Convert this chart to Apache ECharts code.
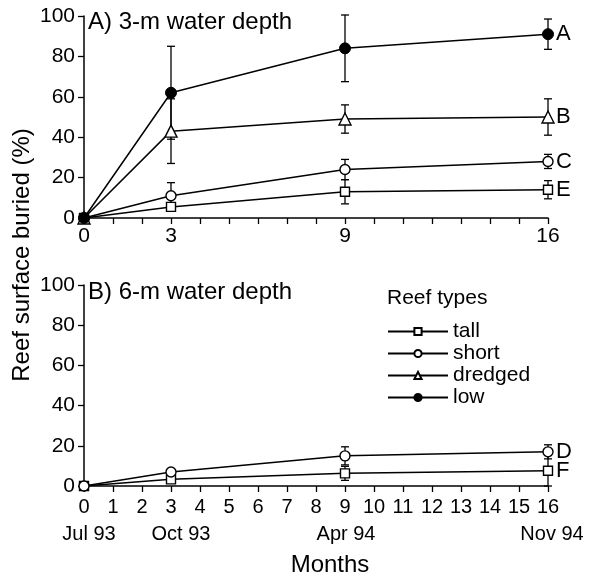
<!DOCTYPE html>
<html>
<head>
<meta charset="utf-8">
<script src="https://cdn.jsdelivr.net/npm/echarts@6/dist/echarts.min.js"></script>
<style>html,body{margin:0;padding:0;background:#fff}#c{width:591px;height:577px}</style>
</head>
<body>
<div id="c"></div>
<script>
// ---- data ----
const months = [0, 3, 9, 16];
const topTickLabels = [0, 3, 9, 16];
const dateMonths = [0, 3, 9, 16];
const dateLabels = ['Jul 93', 'Oct 93', 'Apr 94', 'Nov 94'];
const seriesNames = ['tall', 'short', 'dredged', 'low'];

// Panel A (3-m)
const tallA = [0, 5.5, 13, 14];
const tallAErr = [0, 2, 6, 4.5];
const shortA = [0, 11, 24, 28];
const shortAErr = [0, 6.5, 5, 3.5];
const dredgedA = [0, 43, 49, 50];
const dredgedAErr = [0, 16, 7, 9];
const lowA = [0, 62, 84, 91];
const lowAErr = [0, 23, 16.5, 7.5];
const lettersA = {tall: 'E', short: 'C', dredged: 'B', low: 'A'};

// Panel B (6-m)
const tallB = [0, 3.3, 6.3, 7.6];
const tallBErr = [0, 1, 3.5, 7.6];
const shortB = [0, 7, 15, 17];
const shortBErr = [0, 1.5, 4.5, 3.5];
const lettersB = {tall: 'F', short: 'D'};

// ---- styles ----
const FONT = 'Liberation Sans, Arial, Helvetica, sans-serif';
const symbolStyles = {
  tall:    {symbol: 'rect', symbolSize: 9, itemStyle: {color: '#fff', borderColor: '#000', borderWidth: 1.4}},
  short:   {symbol: 'circle', symbolSize: 10, itemStyle: {color: '#fff', borderColor: '#000', borderWidth: 1.4}},
  dredged: {symbol: 'triangle', symbolSize: 12, itemStyle: {color: '#fff', borderColor: '#000', borderWidth: 1.4}},
  low:     {symbol: 'circle', symbolSize: 11, itemStyle: {color: '#000', borderColor: '#000', borderWidth: 1}}
};

function pairs(vals) { return months.map((m, i) => [m, vals[i]]); }
function errData(vals, errs) { return months.map((m, i) => [m, vals[i] - errs[i], vals[i] + errs[i]]); }

function lineSeries(name, vals, axis, letter) {
  const s = symbolStyles[name];
  return {
    name: name, type: 'line', xAxisIndex: axis, yAxisIndex: axis,
    data: pairs(vals), symbol: s.symbol, symbolSize: s.symbolSize,
    itemStyle: s.itemStyle, lineStyle: {color: '#000', width: 1.5},
    showSymbol: true, z: 3, animation: false,
    endLabel: {show: true, formatter: letter, color: '#000', fontFamily: FONT, fontSize: 22, distance: 8}
  };
}
function errSeries(vals, errs, axis) {
  return {
    type: 'custom', xAxisIndex: axis, yAxisIndex: axis, z: 2, silent: true, animation: false,
    data: errData(vals, errs),
    encode: {x: 0, y: [1, 2]},
    renderItem: function (params, api) {
      const x = api.value(0), lo = api.value(1), hi = api.value(2);
      if (hi - lo <= 0) return null;
      const a = api.coord([x, lo]), b = api.coord([x, hi]);
      const w = 4;
      const st = {stroke: '#000', lineWidth: 1.3};
      return {type: 'group', children: [
        {type: 'line', shape: {x1: a[0], y1: a[1], x2: b[0], y2: b[1]}, style: st},
        {type: 'line', shape: {x1: a[0] - w, y1: a[1], x2: a[0] + w, y2: a[1]}, style: st},
        {type: 'line', shape: {x1: b[0] - w, y1: b[1], x2: b[0] + w, y2: b[1]}, style: st}
      ]};
    }
  };
}

const axisLineStyle = {show: true, lineStyle: {color: '#000', width: 1.5}};
const axisTickStyle = {show: true, length: 6, lineStyle: {color: '#000', width: 1.3}};

function yAxis(gi) {
  return {
    type: 'value', gridIndex: gi, min: 0, max: 100, interval: 20,
    axisLine: axisLineStyle, axisTick: axisTickStyle, splitLine: {show: false},
    axisLabel: {color: '#000', fontFamily: FONT, fontSize: 21, margin: 9,
      showMaxLabel: true, showMinLabel: true, hideOverlap: false}
  };
}

const dStyle = {fontFamily: FONT, fontSize: 20, color: '#000', lineHeight: 24};
const richDate = {
  d0: Object.assign({}, dStyle, {padding: [0, 0, 0, 10]}),
  d1: Object.assign({}, dStyle, {padding: [0, 0, 0, 20]}),
  d2: Object.assign({}, dStyle, {padding: [0, 0, 0, 2]}),
  d3: Object.assign({}, dStyle, {padding: [0, 0, 0, 8]})
};

const option = {
  backgroundColor: '#fff',
  animation: false,
  grid: [
    {left: 84, top: 16, width: 464, height: 202},
    {left: 84, top: 285, width: 464, height: 201}
  ],
  xAxis: [
    {
      type: 'value', gridIndex: 0, min: 0, max: 16, interval: 1,
      axisLine: axisLineStyle, axisTick: axisTickStyle, splitLine: {show: false},
      axisLabel: {color: '#000', fontFamily: FONT, fontSize: 21, margin: 8, interval: 0,
        showMinLabel: true, showMaxLabel: true, hideOverlap: false,
        formatter: v => topTickLabels.indexOf(v) >= 0 ? String(v) : ''}
    },
    {
      type: 'value', gridIndex: 1, min: 0, max: 16, interval: 1, position: 'bottom',
      axisLine: axisLineStyle, axisTick: axisTickStyle, splitLine: {show: false},
      axisLabel: {color: '#000', fontFamily: FONT, fontSize: 20, margin: 11, interval: 0,
        showMinLabel: true, showMaxLabel: true, hideOverlap: false}
    },
    {
      type: 'value', gridIndex: 1, min: 0, max: 16, position: 'bottom', offset: 0,
      axisLine: {show: false}, axisTick: {show: false}, splitLine: {show: false},
      axisLabel: {margin: 36, rich: richDate, customValues: dateMonths,
        showMinLabel: true, showMaxLabel: true, hideOverlap: false,
        formatter: v => {
          const k = dateMonths.indexOf(v);
          return k >= 0 ? '{d' + k + '|' + dateLabels[k] + '}' : '';
        }}
    }
  ],
  yAxis: [yAxis(0), yAxis(1)],
  legend: {
    data: seriesNames, orient: 'vertical', left: 382, top: 316,
    itemWidth: 60, itemHeight: 9, itemGap: 1,
    textStyle: {color: '#000', fontFamily: FONT, fontSize: 21},
    selectedMode: false
  },
  graphic: [
    {type: 'text', left: 88, top: 10, style: {text: 'A) 3-m water depth', font: '24px ' + FONT, fill: '#000'}},
    {type: 'text', left: 88, top: 280, style: {text: 'B) 6-m water depth', font: '24px ' + FONT, fill: '#000'}},
    {type: 'text', left: 387, top: 288, style: {text: 'Reef types', font: '21px ' + FONT, fill: '#000'}},
    {type: 'text', x: 22, y: 255, rotation: Math.PI / 2,
      style: {text: 'Reef surface buried (%)', font: '24px ' + FONT, fill: '#000', align: 'center', verticalAlign: 'middle'}},
    {type: 'text', x: 330, y: 565,
      style: {text: 'Months', font: '24px ' + FONT, fill: '#000', align: 'center', verticalAlign: 'middle'}}
  ],
  series: [
    errSeries(tallA, tallAErr, 0), errSeries(shortA, shortAErr, 0),
    errSeries(dredgedA, dredgedAErr, 0), errSeries(lowA, lowAErr, 0),
    errSeries(tallB, tallBErr, 1), errSeries(shortB, shortBErr, 1),
    lineSeries('tall', tallA, 0, lettersA.tall),
    lineSeries('short', shortA, 0, lettersA.short),
    lineSeries('dredged', dredgedA, 0, lettersA.dredged),
    lineSeries('low', lowA, 0, lettersA.low),
    lineSeries('tall', tallB, 1, lettersB.tall),
    lineSeries('short', shortB, 1, lettersB.short)
  ]
};

const chart = echarts.init(document.getElementById('c'), null, {renderer: 'canvas'});
chart.setOption(option);
</script>
</body>
</html>
